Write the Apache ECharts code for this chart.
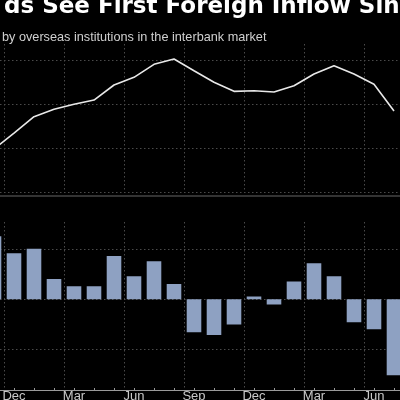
<!DOCTYPE html>
<html>
<head>
<meta charset="utf-8">
<script src="https://cdn.jsdelivr.net/npm/echarts@6/dist/echarts.min.js"></script>
<style>
html,body{margin:0;padding:0;background:#000;}
#c{width:400px;height:400px;}
</style>
</head>
<body>
<div id="c"></div>
<script>
// Visible title fragments (chart is cropped)
const titleText = 'ds See First Foreign Inflow Sin';
const subtitleText = 'by overseas institutions in the interbank market';

// Months shown on the x axis
const months = ['Nov','Dec','Jan','Feb','Mar','Apr','May','Jun','Jul','Aug','Sep','Oct',
                'Nov','Dec','Jan','Feb','Mar','Apr','May','Jun','Jul'];
// Holdings (top panel line)
const holdings = [3149.8, 3167.7, 3186.4, 3194.8, 3200.5, 3205.3, 3222.4, 3231.1, 3245.9, 3251.9,
                  3238.6, 3225.5, 3215.2, 3215.9, 3214.4, 3221.6, 3234.9, 3244.3, 3234.9, 3223.2, 3192.8];
// Monthly change (bottom panel bars)
const monthlyChange = [25.2, 18.4, 20.2, 8.1, 5.2, 5.2, 17.3, 9.2, 15.2, 6.1,
                       -13.2, -14.3, -10.1, 1.1, -2.1, 7.1, 14.4, 9.2, -9.2, -12.0, -30.4];

const chart = echarts.init(document.getElementById('c'), null, {renderer: 'canvas'});
const gridColor = '#4a4a4a';
const showEvery3 = function (idx) { return idx % 3 === 1; };

chart.setOption({
  backgroundColor: '#000',
  animation: false,
  title: [
    { text: titleText, left: -1, top: -9.5,
      textStyle: { color: '#fff', fontSize: 23, fontWeight: 'bold', fontFamily: 'DejaVu Sans' } },
    { text: subtitleText, left: -3, top: 25.5,
      textStyle: { color: '#d0d0d0', fontSize: 12.7, fontWeight: 'normal', fontFamily: 'Liberation Sans' } }
  ],
  grid: [
    { left: -16, width: 420, top: 44, bottom: 207.3, outerBoundsMode: 'none', containLabel: false },
    { left: -16, width: 420, top: 222, bottom: 10, outerBoundsMode: 'none', containLabel: false }
  ],
  xAxis: [
    { type: 'category', gridIndex: 0, data: months, boundaryGap: true,
      offset: 3,
      axisLine: { show: true, lineStyle: { color: '#333', width: 2 } },
      axisTick: { show: false }, axisLabel: { show: false },
      splitLine: { show: true, interval: showEvery3, lineStyle: { color: gridColor, type: [1.5, 2.5], width: 1 } } },
    { type: 'category', gridIndex: 1, data: months, boundaryGap: true,
      axisLine: { show: true, onZero: false, lineStyle: { color: '#9a9a9a', width: 1 } },
      axisTick: { show: true, inside: true, length: 2, interval: 0, alignWithLabel: true, lineStyle: { color: '#9a9a9a' } },
      axisLabel: { show: true, interval: showEvery3, color: '#c8c8c8', fontSize: 13, margin: 0, fontFamily: 'Liberation Sans' },
      splitLine: { show: true, interval: showEvery3, lineStyle: { color: gridColor, type: [1.5, 2.5], width: 1 } } }
  ],
  yAxis: [
    { type: 'value', gridIndex: 0, position: 'right', min: 3100, max: 3269, interval: 50,
      axisLine: { show: false }, axisTick: { show: false }, axisLabel: { show: false },
      splitLine: { show: true, showMaxLine: false, lineStyle: { color: gridColor, type: [1.5, 2.5], width: 1 } } },
    { type: 'value', gridIndex: 1, position: 'right', min: -36.3, max: 30.9, splitNumber: 3,
      axisLine: { show: false }, axisTick: { show: false }, axisLabel: { show: false },
      splitLine: { show: true, showMaxLine: false, showMinLine: false, lineStyle: { color: gridColor, type: [1.5, 2.5], width: 1 } } }
  ],
  series: [
    { type: 'line', xAxisIndex: 0, yAxisIndex: 0, data: holdings, symbol: 'none',
      lineStyle: { color: '#e8e8e8', width: 1.6 } },
    { type: 'bar', xAxisIndex: 1, yAxisIndex: 1, data: monthlyChange, barWidth: '73%',
      itemStyle: { color: '#8ea1c2' } }
  ]
});
</script>
</body>
</html>
